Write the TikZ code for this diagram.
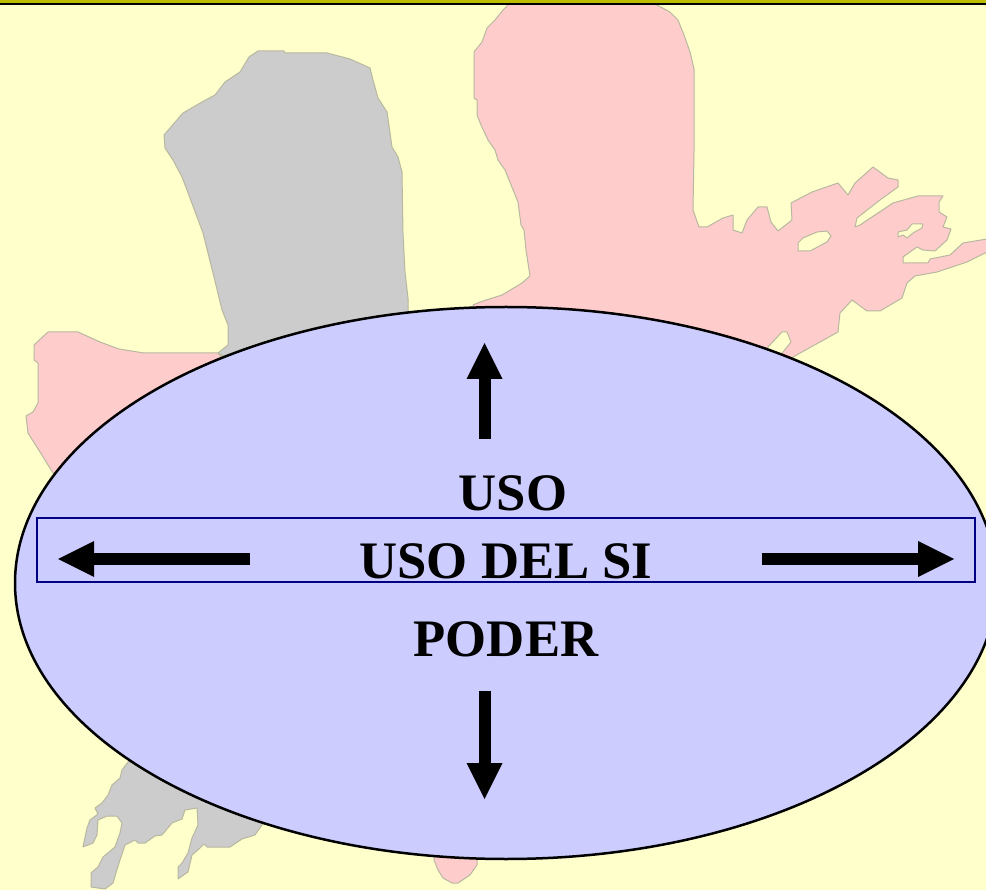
\documentclass[tikz,border=0pt]{standalone}
\usepackage{fontspec}
\setmainfont{Liberation Serif}
\usetikzlibrary{arrows.meta}
\definecolor{bgyellow}{HTML}{FFFFCC}
\definecolor{landpink}{HTML}{FFCCCC}
\definecolor{landgrey}{HTML}{CCCCCC}
\definecolor{edgeland}{HTML}{B8B8A0}
\definecolor{blobblue}{HTML}{CCCCFF}
\definecolor{bandolive}{HTML}{BDBD00}
\definecolor{boxnavy}{HTML}{000080}
\tikzset{
  pinkland/.style={fill=landpink,draw=edgeland,line width=1pt,line join=round},
  greyland/.style={fill=landgrey,draw=edgeland,line width=1pt,line join=round},
  lakeland/.style={fill=bgyellow,draw=edgeland,line width=1pt,line join=round},
  bigarrow/.style={line width=12pt,-{Triangle[length=36pt,width=36pt,line width=0pt]}},
  bigtext/.style={font=\bfseries\fontsize{52.7}{60}\selectfont,text=black,anchor=base,inner sep=0pt}
}
\begin{document}
\begin{tikzpicture}[x=1pt,y=-1pt]
\useasboundingbox (0,0) rectangle (986,890);
\fill[bgyellow] (0,0) rectangle (986,890);
% pink land, upper right
\draw[pinkland] (473,305) -- (480,302) -- (502,295) -- (522,283) -- (530,276) -- (528,263) -- (526,250) -- (524,230) -- (521,225) -- (518,202) -- (505,170) -- (498,160) -- (495,150) -- (488,140) -- (481,125) -- (477,115) -- (477,100) -- (474,98) -- (474,52) -- (482,42) -- (487,28) -- (495,20) -- (503,10) -- (510,3) -- (653,3) -- (670,12) -- (678,20) -- (684,35) -- (690,52) -- (694,69) -- (694,152) -- (693,210) -- (699,227) -- (707,227) -- (723,218) -- (733,215) -- (733,230) -- (742,233) -- (747,220) -- (758,207) -- (767,207) -- (771,222) -- (778,231) -- (792,220) -- (791,203) -- (812,192) -- (838,183) -- (848,195) -- (855,183) -- (873,167) -- (888,178) -- (898,180) -- (898,187) -- (880,200) -- (857,218) -- (855,227) -- (860,225) -- (893,203) -- (918,196) -- (943,196) -- (939,202) -- (939,212) -- (947,217) -- (943,227) -- (951,229) -- (947,240) -- (935,251) -- (923,250) -- (917,247) -- (903,257) -- (903,263) -- (928,263) -- (930,259) -- (950,255) -- (963,243) -- (987,239) -- (987,252) -- (967,262) -- (937,272) -- (915,276) -- (907,283) -- (902,298) -- (880,311) -- (867,311) -- (852,300) -- (840,313) -- (838,332) -- (820,342) -- (793,357) -- (780,375) -- (600,450) -- (475,400) -- cycle;
\draw[lakeland] (798,243) -- (803,238) -- (817,232) -- (827,231) -- (831,236) -- (827,242) -- (810,251) -- (798,251) -- cycle;
\draw[lakeland] (898,232) -- (907,230) -- (912,224) -- (923,224) -- (922,228) -- (913,233) -- (907,238) -- (903,235) -- (898,237) -- cycle;
\draw[lakeland] (768,347) -- (782,332) -- (787,332) -- (791,342) -- (783,352) -- (775,362) -- (760,358) -- cycle;
% pink land, left
\draw[pinkland] (53,473) -- (48,465) -- (40,452) -- (28,433) -- (26,416) -- (33,412) -- (38,403) -- (38,363) -- (34,360) -- (34,345) -- (48,332) -- (78,332) -- (100,342) -- (119,349) -- (144,353) -- (218,353) -- (260,400) -- (100,500) -- cycle;
% pink land, bottom tip
\draw[pinkland] (434,850) -- (434,860) -- (438,870) -- (443,878) -- (452,883) -- (458,883) -- (470,875) -- (477,865) -- (477,850) -- cycle;
% grey land, upper
\draw[greyland] (222,310) -- (213,273) -- (203,233) -- (187,190) -- (182,177) -- (173,160) -- (165,148) -- (164,135) -- (183,113) -- (202,102) -- (215,95) -- (225,82) -- (240,72) -- (249,57) -- (258,51) -- (284,51) -- (285,53) -- (327,53) -- (350,59) -- (370,68) -- (373,80) -- (378,98) -- (387,112) -- (392,147) -- (398,157) -- (402,172) -- (403,233) -- (405,272) -- (408,298) -- (408,330) -- (300,400) -- (218,353) -- (228,345) -- (228,325) -- cycle;
% grey land, lower
\draw[greyland] (128,762) -- (122,770) -- (120,778) -- (112,785) -- (108,795) -- (102,803) -- (95,808) -- (98,814) -- (90,820) -- (87,828) -- (84,842) -- (83,847) -- (93,843) -- (97,835) -- (98,820) -- (107,816) -- (117,816) -- (122,823) -- (120,833) -- (115,847) -- (103,857) -- (98,867) -- (91,873) -- (91,887) -- (98,888) -- (105,889) -- (113,883) -- (119,863) -- (125,845) -- (135,840) -- (138,843) -- (145,843) -- (155,836) -- (162,835) -- (172,823) -- (182,819) -- (185,810) -- (197,808) -- (198,825) -- (192,838) -- (188,853) -- (182,863) -- (178,867) -- (178,879) -- (188,872) -- (192,855) -- (200,848) -- (204,844) -- (207,847) -- (230,847) -- (242,839) -- (255,835) -- (262,825) -- (270,800) -- (160,740) -- cycle;
% top band
\fill[bandolive] (0,0) rectangle (986,2.7);
\fill[black] (0,2.7) rectangle (986,5);
% ellipse
\begin{scope}
\clip (0,0) rectangle (986,890);
\draw[fill=blobblue,draw=black,line width=2.5pt] (506,583) ellipse [x radius=491, y radius=276];
\end{scope}
% box
\node[draw=boxnavy,line width=2pt,minimum width=938pt,minimum height=64pt,inner sep=0pt] (usobox) at (506,549.6) {};
% texts
\node[bigtext] (uso) at (513,511) {USO};
\node[bigtext] (usodelsi) at (506,578) {USO DEL SI};
\node[bigtext] (poder) at (506,656) {PODER};
% arrows
\coordinate (upstart) at (484.6,439);
\coordinate (uptip) at (484.6,343);
\coordinate (downstart) at (484.6,691);
\coordinate (downtip) at (484.6,799);
\coordinate (leftstart) at (250,559);
\coordinate (lefttip) at (58,559);
\coordinate (rightstart) at (762,559);
\coordinate (righttip) at (954,559);
\draw[bigarrow] (upstart) -- (uptip);
\draw[bigarrow] (downstart) -- (downtip);
\draw[bigarrow] (leftstart) -- (lefttip);
\draw[bigarrow] (rightstart) -- (righttip);
\end{tikzpicture}
\end{document}
